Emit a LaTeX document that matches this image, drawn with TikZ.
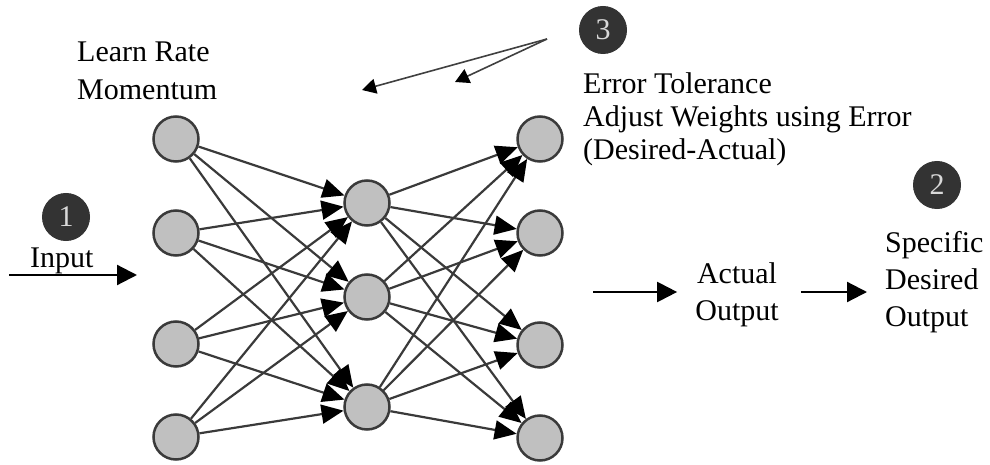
\documentclass[tikz,border=0pt]{standalone}
\usepackage{fontspec}
\setmainfont{Liberation Serif}
\newfontfamily\nnserif{Liberation Serif}
\usepackage{tikz}
\usetikzlibrary{arrows.meta}
\definecolor{nnfill}{HTML}{C0C0C0}
\definecolor{nnline}{HTML}{3A3A3A}
\definecolor{nndark}{HTML}{333333}
\newcommand{\nnfont}[1]{\nnserif\fontsize{30}{#1}\selectfont}
\tikzset{
  nnnode/.style={
    circle, draw=nnline, fill=nnfill, line width=2.5pt,
    minimum size=45pt, inner sep=0pt
  },
  nnbadge/.style={
    circle, draw=nndark, fill=nndark, line width=1pt,
    minimum size=47pt, inner sep=0pt, text=white!85!black, font=\nnfont{36}
  },
  nnedge/.style={-{Triangle[length=22pt,width=19pt,color=black]}, line width=2.2pt, draw=nnline},
  nnarrow/.style={-{Triangle[length=20pt,width=20pt]}, line width=2.2pt, draw=black},
  nnthin/.style={-{Triangle[length=14pt,width=15pt,color=black]}, line width=1.6pt, draw=black!75},
  nntext/.style={inner sep=0pt, align=left},
}

\begin{document}
\begin{tikzpicture}[x=1pt, y=-1pt]
  \useasboundingbox (0,0) rectangle (990,465);
  % layers
  \node (in1) [nnnode] at (176,139) {};
  \node (in2) [nnnode] at (176,233) {};
  \node (in3) [nnnode] at (176,344) {};
  \node (in4) [nnnode] at (176,437) {};
  \node (hd1) [nnnode] at (367,203) {};
  \node (hd2) [nnnode] at (367,297) {};
  \node (hd3) [nnnode] at (367,407) {};
  \node (out1) [nnnode] at (540,139) {};
  \node (out2) [nnnode] at (540,233) {};
  \node (out3) [nnnode] at (540,345) {};
  \node (out4) [nnnode] at (540,438) {};
  % weights
  \draw[nnedge] (in1)--(hd1); \draw[nnedge] (in1)--(hd2); \draw[nnedge] (in1)--(hd3);
  \draw[nnedge] (in2)--(hd1); \draw[nnedge] (in2)--(hd2); \draw[nnedge] (in2)--(hd3);
  \draw[nnedge] (in3)--(hd1); \draw[nnedge] (in3)--(hd2); \draw[nnedge] (in3)--(hd3);
  \draw[nnedge] (in4)--(hd1); \draw[nnedge] (in4)--(hd2); \draw[nnedge] (in4)--(hd3);
  \draw[nnedge] (hd1)--(out1); \draw[nnedge] (hd1)--(out2); \draw[nnedge] (hd1)--(out3); \draw[nnedge] (hd1)--(out4);
  \draw[nnedge] (hd2)--(out1); \draw[nnedge] (hd2)--(out2); \draw[nnedge] (hd2)--(out3); \draw[nnedge] (hd2)--(out4);
  \draw[nnedge] (hd3)--(out1); \draw[nnedge] (hd3)--(out2); \draw[nnedge] (hd3)--(out3); \draw[nnedge] (hd3)--(out4);
  % badges
  \node (b1) [nnbadge] at (66,217) {1};
  \node (b2) [nnbadge] at (937,185) {2};
  \node (b3) [nnbadge] at (603,30) {3};
  % labels
  \node (learn) [nntext, anchor=north west, font=\nnfont{38}] at (77,42) {Learn Rate\\Momentum};
  \node (error) [nntext, anchor=north west, font=\nnfont{33}] at (583,72.5) {Error Tolerance\\Adjust Weights using Error\\(Desired-Actual)};
  \node (inlbl) [nntext, anchor=base west, font=\nnfont{36}] at (30,267) {Input};
  \node (actual) [nntext, align=center, anchor=north, font=\nnfont{37}] at (737,262.5) {Actual\\Output};
  \node (desired) [nntext, anchor=north west, font=\nnfont{37}] at (885,231) {Specific\\Desired\\Output};
  % flow arrows
  \coordinate (inStart) at (9,275);
  \coordinate (inEnd) at (137,275);
  \draw[nnarrow] (inStart)--(inEnd);
  \coordinate (actIn) at (593,292);
  \draw[nnarrow, shorten >=18pt] (actIn)--(actIn -| actual.west);
  \draw[nnarrow, shorten <=22pt, shorten >=18pt] (actual.east |- actIn)--(desired.west |- actIn);
  % feedback
  \coordinate (fbSrc) at (547,39);
  \coordinate (fbTip1) at (362,90);
  \coordinate (fbTip2) at (455,82);
  \draw[nnthin] (fbSrc)--(fbTip1); \draw[nnthin] (fbSrc)--(fbTip2);
\end{tikzpicture}
\end{document}
